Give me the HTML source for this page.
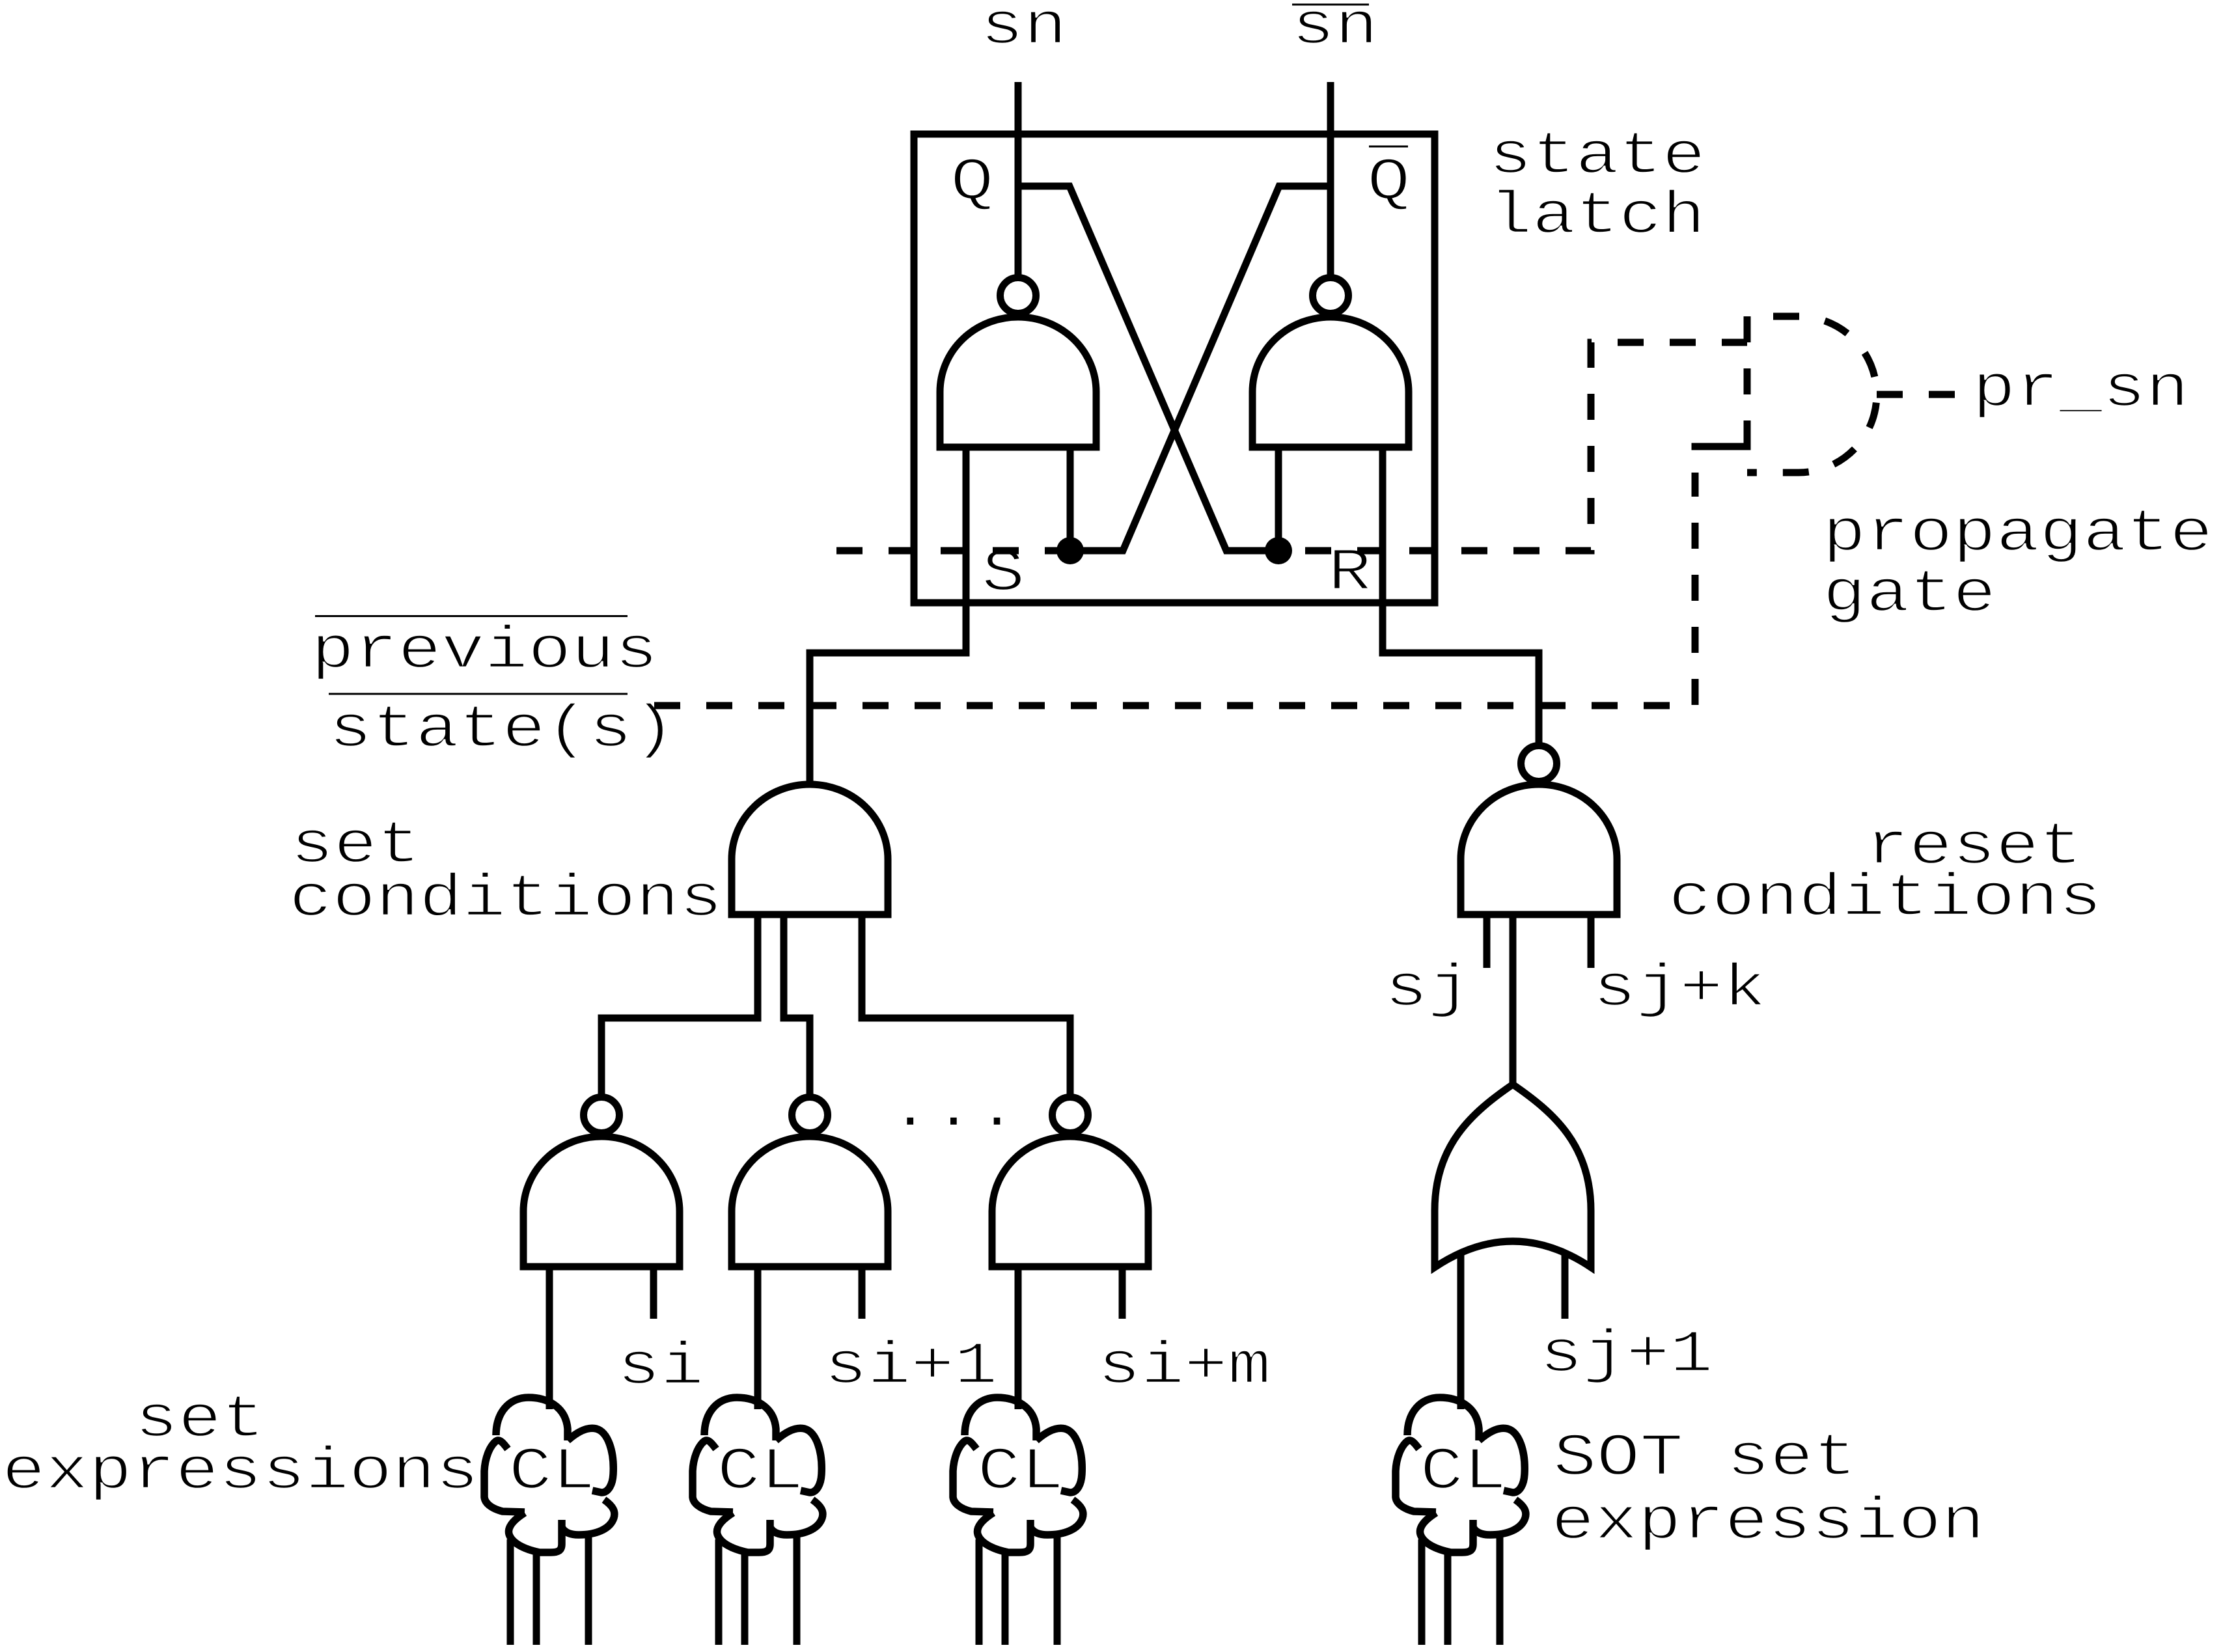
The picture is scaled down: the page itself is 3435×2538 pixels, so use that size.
<!DOCTYPE html>
<html>
<head>
<meta charset="utf-8">
<style>
  html, body { margin: 0; padding: 0; background: #ffffff; }
  svg { display: block; }
  .t { font-family: "Liberation Mono", "DejaVu Sans Mono", monospace; font-size: 111px; fill: #000; stroke: #fff; stroke-width: 3px; paint-order: normal; }
  .w { fill: none; stroke: #000; stroke-width: 11; stroke-linecap: butt; stroke-linejoin: miter; }
  .d { fill: none; stroke: #000; stroke-width: 11; stroke-dasharray: 40 40; stroke-linecap: butt; stroke-linejoin: miter; }
  .g { fill: #fff; stroke: #000; stroke-width: 11; stroke-linejoin: miter; }
  .c { fill: none; stroke: #000; stroke-width: 11.5; stroke-linecap: butt; stroke-linejoin: round; }
  .o { stroke: #000; stroke-width: 3; fill: none; }
</style>
</head>
<body>
<svg width="3435" height="2538" viewBox="0 0 3435 2538" xmlns="http://www.w3.org/2000/svg">
  <rect x="0" y="0" width="3435" height="2538" fill="#fff"/>

  <!-- ===== TEXT ===== -->
  <text class="t" transform="matrix(1 0 0 0.83 1506 66)">sn</text>
  <text class="t" transform="matrix(1 0 0 0.83 1984 66)">sn</text>
  <text class="t" transform="matrix(1 0 0 0.83 1460 305)">Q</text>
  <text class="t" transform="matrix(1 0 0 0.83 2100 305)">Q</text>
  <text class="t" transform="matrix(1 0 0 0.83 1508 906)">S</text>
  <text class="t" transform="matrix(1 0 0 0.83 2040 905)">R</text>
  <text class="t" transform="matrix(1 0 0 0.83 2287 265)">state</text>
  <text class="t" transform="matrix(1 0 0 0.83 2287 357)">latch</text>
  <text class="t" transform="matrix(1 0 0 0.83 3030 623)">pr_sn</text>
  <text class="t" transform="matrix(1 0 0 0.83 2800 845)">propagate</text>
  <text class="t" transform="matrix(1 0 0 0.83 2800 938)">gate</text>
  <text class="t" transform="matrix(1 0 0 0.83 478 1025)">previous</text>
  <text class="t" transform="matrix(1 0 0 0.83 505 1146)">state(s)</text>
  <text class="t" transform="matrix(1 0 0 0.83 446 1324)">set</text>
  <text class="t" transform="matrix(1 0 0 0.83 444 1406)">conditions</text>
  <text class="t" transform="matrix(1 0 0 0.83 2866 1326)">reset</text>
  <text class="t" transform="matrix(1 0 0 0.83 2563 1405)">conditions</text>
  <text class="t" transform="matrix(1 0 0 0.83 2127 1544)">sj</text>
  <text class="t" transform="matrix(1 0 0 0.83 2447 1544)">sj+k</text>
  <text class="t" transform="matrix(1 0 0 0.83 1365 1729)">...</text>
  <text class="t" transform="matrix(1 0 0 0.83 948 2125)">si</text>
  <text class="t" transform="matrix(1 0 0 0.83 1266 2124)">si+1</text>
  <text class="t" transform="matrix(1 0 0 0.83 1686 2124)">si+m</text>
  <text class="t" transform="matrix(1 0 0 0.83 2365 2106)">sj+1</text>
  <text class="t" transform="matrix(1 0 0 0.83 207 2206)">set</text>
  <text class="t" transform="matrix(1 0 0 0.83 3 2286)">expressions</text>
  <text class="t" transform="matrix(1 0 0 0.83 2386 2265)">SOT set</text>
  <text class="t" transform="matrix(1 0 0 0.83 2383 2363)">expression</text>
  <text class="t" text-anchor="middle" transform="matrix(1 0 0 0.83 848 2286)">CL</text>
  <text class="t" text-anchor="middle" transform="matrix(1 0 0 0.83 1168 2286)">CL</text>
  <text class="t" text-anchor="middle" transform="matrix(1 0 0 0.83 1568 2286)">CL</text>
  <text class="t" text-anchor="middle" transform="matrix(1 0 0 0.83 2248 2286)">CL</text>

  <!-- overlines -->
  <path class="o" d="M1985,7 H2103"/>
  <path class="o" d="M2103,225 H2163"/>
  <path class="o" d="M484,946.5 H964"/>
  <path class="o" d="M505,1066 H964"/>

  <!-- ===== STATE LATCH BOX ===== -->
  <rect x="1404" y="206" width="800" height="720" class="w"/>

  <!-- outputs sn / sn-bar -->
  <path class="w" d="M1564,126 V426"/>
  <path class="w" d="M2044,126 V426"/>

  <!-- cross coupling -->
  <path class="w" d="M1564,286 H1643 L1884,846 H1964"/>
  <path class="w" d="M2044,286 H1965 L1725,846 H1644"/>
  <path class="w" d="M1644,687 V846"/>
  <path class="w" d="M1964,687 V846"/>
  <circle cx="1644" cy="846" r="21" fill="#000"/>
  <circle cx="1964" cy="846" r="21" fill="#000"/>

  <!-- latch gates -->
  <path class="g" d="M1444,687 V602 A120,115 0 0 1 1684,602 V687 Z"/>
  <path class="g" d="M1924,687 V602 A120,115 0 0 1 2164,602 V687 Z"/>
  <circle cx="1564" cy="454" r="27.5" class="g"/>
  <circle cx="2044" cy="454" r="27.5" class="g"/>

  <!-- S and R lines -->
  <path class="w" d="M1484,687 V1003 H1244 V1205"/>
  <path class="w" d="M2124,687 V1003 H2364 V1145"/>

  <!-- ===== DASHED LINES ===== -->
  <path class="d" d="M1285,846 H1644"/>
  <path class="d" d="M2005,846 H2444 V526 H2684"/>
  <path class="d" d="M1005,1084 H2604 V726"/>
  <path class="w" d="M2598.5,686 H2689.5"/>
  <!-- propagate gate -->
  <path class="d" d="M2684,486 V726"/>
  <path class="d" style="stroke-dashoffset:40" d="M2684,486 H2763 A120,120 0 0 1 2763,726 H2684"/>
  <path class="d" d="M2883,606 H3003"/>

  <!-- ===== SET CONDITIONS ===== -->
  <path class="g" d="M1124,1405 V1320 A120,115 0 0 1 1364,1320 V1405 Z"/>
  <path class="w" d="M1164,1405 V1564 H924 V1685"/>
  <path class="w" d="M1204,1405 V1564 H1244 V1685"/>
  <path class="w" d="M1324,1405 V1564 H1644 V1685"/>

  <!-- lower NAND gates -->
  <path class="g" d="M804,1946 V1861 A120,115 0 0 1 1044,1861 V1946 Z"/>
  <path class="g" d="M1124,1946 V1861 A120,115 0 0 1 1364,1861 V1946 Z"/>
  <path class="g" d="M1524,1946 V1861 A120,115 0 0 1 1764,1861 V1946 Z"/>
  <circle cx="924" cy="1713" r="27.5" class="g"/>
  <circle cx="1244" cy="1713" r="27.5" class="g"/>
  <circle cx="1644" cy="1713" r="27.5" class="g"/>

  <path class="w" d="M844,1946 V2165"/>
  <path class="w" d="M1004,1946 V2026"/>
  <path class="w" d="M1164,1946 V2165"/>
  <path class="w" d="M1324,1946 V2026"/>
  <path class="w" d="M1564,1946 V2165"/>
  <path class="w" d="M1724,1946 V2026"/>

  <!-- ===== RESET CONDITIONS ===== -->
  <path class="g" d="M2244,1405 V1320 A120,115 0 0 1 2484,1320 V1405 Z"/>
  <circle cx="2364" cy="1173" r="27.5" class="g"/>
  <path class="w" d="M2284,1405 V1487"/>
  <path class="w" d="M2444,1405 V1487"/>
  <path class="w" d="M2324,1405 V1666"/>

  <!-- OR gate -->
  <path class="g" d="M2204,1947 V1860 C2204,1760 2260,1710 2324,1666 C2388,1710 2444,1760 2444,1860 V1947 Q2324,1867 2204,1947 Z"/>
  <path class="w" d="M2244,1925 V2165"/>
  <path class="w" d="M2404,1925 V2026"/>

  <!-- ===== CL CLOUDS ===== -->
  <defs>
    <g id="cloud">
      <path class="c" d="M-82,95 C-82,60 -62,37 -32,37 C-5,37 25,50 28,85 L28,103"/>
      <path class="c" d="M28,103 C45,88 60,82 72,85 C90,90 100,120 98,155 C97,172 90,183 80,183 L66,180"/>
      <path class="c" d="M84,194 C98,204 102,212 99,222 C93,240 70,248 45,248 C32,248 24,244 20,238"/>
      <path class="c" d="M19,225 V262 C19,272 14,275 2,275 L-15,275 C-40,270 -58,260 -62,247 C-65,236 -55,225 -38,214"/>
      <path class="c" d="M-38,213 L-72,212 C-88,208 -99,200 -100,190 L-100,150 C-99,130 -92,112 -82,104 C-76,100 -70,108 -64,116"/>
      <path class="w" d="M-60,255 V417"/>
      <path class="w" d="M-20,278 V417"/>
      <path class="w" d="M60,246 V417"/>
    </g>
  </defs>
  <use href="#cloud" transform="translate(844,2110)"/>
  <use href="#cloud" transform="translate(1164,2110)"/>
  <use href="#cloud" transform="translate(1564,2110)"/>
  <use href="#cloud" transform="translate(2244,2110)"/>
</svg>
</body>
</html>
